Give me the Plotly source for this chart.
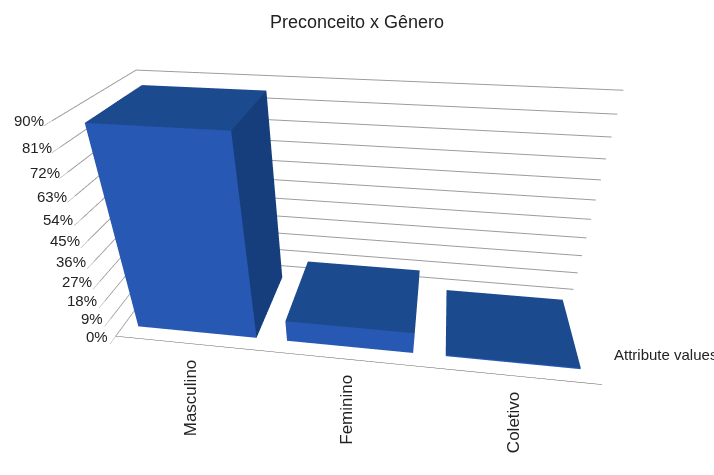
import plotly.graph_objects as go

categories = ["Masculino", "Feminino", "Coletivo"]
values = [87, 10, 0.6]
tick_values = [0, 9, 18, 27, 36, 45, 54, 63, 72, 81, 90]
tick_labels = [f"{v}%" for v in tick_values]

BAR_W = 0.8
Y0, Y1 = 0.12, 0.84

FRONT = "#2658b4"
TOP = "#1c4a8e"
SIDE = "#163e7c"
FAMILY = "Liberation Sans, Arial"
FONT = dict(family=FAMILY, size=15, color="#222")
VFONT = dict(family=FAMILY, size=17, color="#222")

fig = go.Figure()

for i, (cat, v) in enumerate(zip(categories, values)):
    x0, x1 = i - BAR_W / 2, i + BAR_W / 2
    xs = [x0, x1, x1, x0, x0, x1, x1, x0]
    ys = [Y0, Y0, Y1, Y1, Y0, Y0, Y1, Y1]
    zs = [0, 0, 0, 0, v, v, v, v]
    I = [0, 0, 4, 4, 0, 0, 3, 3, 0, 0, 1, 1]
    J = [1, 2, 5, 6, 1, 5, 2, 6, 3, 7, 2, 6]
    K = [2, 3, 6, 7, 5, 4, 6, 7, 7, 4, 6, 5]
    fc = [TOP, TOP, TOP, TOP, FRONT, FRONT, SIDE, SIDE, SIDE, SIDE, SIDE, SIDE]
    fig.add_trace(go.Mesh3d(
        x=xs, y=ys, z=zs, i=I, j=J, k=K, facecolor=fc, flatshading=True,
        lighting=dict(ambient=1, diffuse=0, specular=0, roughness=1, fresnel=0),
        hoverinfo="skip", name=cat, showscale=False,
    ))

annotations = [
    dict(x=i, y=0, z=0, text=c, textangle=-90, showarrow=False,
         xanchor="center", yanchor="top", yshift=-14, font=VFONT)
    for i, c in enumerate(categories)
]
annotations += [
    dict(x=-0.5, y=0, z=t, text=lab, showarrow=False, xanchor="right", xshift=-6, font=FONT)
    for t, lab in zip(tick_values, tick_labels)
]
annotations.append(dict(x=2.5, y=0.0, z=0, text="Attribute values", showarrow=False,
                        xanchor="left", xshift=10, yshift=30, font=FONT))

axis_common = dict(showbackground=False, showspikes=False, title=dict(text=""))
fig.update_layout(
    width=714, height=475,
    margin=dict(l=0, r=0, t=0, b=0),
    paper_bgcolor="white",
    title=dict(text="Preconceito x Gênero", x=0.5, xanchor="center", y=0.955, yanchor="middle",
               font=dict(family=FAMILY, size=18, color="#222")),
    showlegend=False,
    scene=dict(
        domain=dict(x=[0, 1], y=[0, 1]),
        xaxis=dict(range=[-0.5, 2.5], showgrid=False, showticklabels=False, zeroline=False,
                   showline=True, linecolor="#555", **axis_common),
        yaxis=dict(range=[0, 1], showgrid=False, showticklabels=False, zeroline=False,
                   showline=False, **axis_common),
        zaxis=dict(range=[0, 90], tickvals=tick_values, showgrid=True, showticklabels=False,
                   gridcolor="#9a9a9a", zeroline=False, showline=False, ticks="outside",
                   tickcolor="#9a9a9a", **axis_common),
        aspectmode="manual",
        aspectratio=dict(x=2.28, y=0.7, z=1.1),
        camera=dict(up=dict(x=0, y=0, z=1), center=dict(x=0, y=0, z=-0.1),
                    eye=dict(x=0.32, y=-2.285, z=1.34),
                    projection=dict(type="perspective")),
        annotations=annotations,
    ),
)

fig.write_html("out.html")
